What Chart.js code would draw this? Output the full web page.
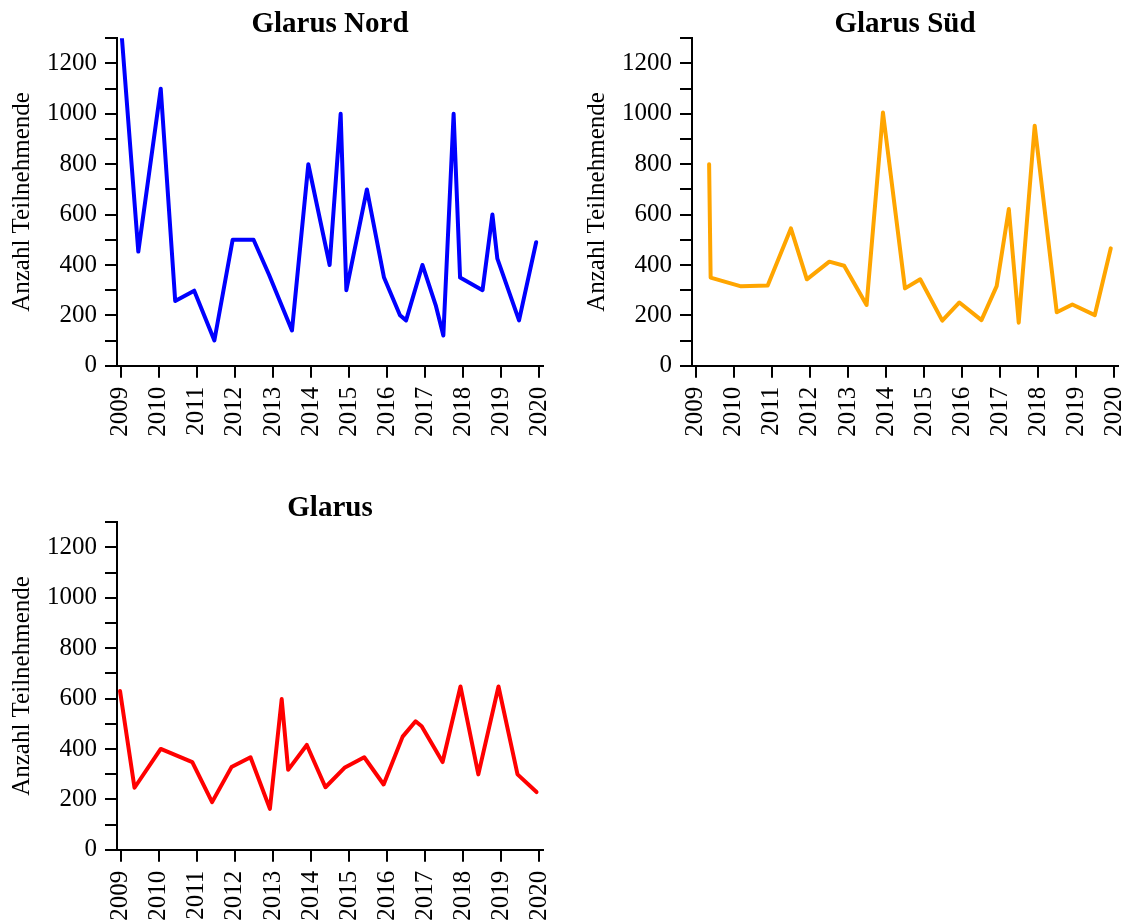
<!DOCTYPE html>
<html>
<head>
<meta charset="utf-8">
<script src="https://cdn.jsdelivr.net/npm/chart.js@4.4.1/dist/chart.umd.min.js"></script>
<style>
  html, body { margin: 0; padding: 0; background: #fff; overflow: hidden; }
  #wrap { position: relative; width: 1129px; height: 922px; overflow: hidden; background: #fff; }
  #wrap canvas { position: absolute; }
</style>
</head>
<body>
<div id="wrap">
  <canvas id="nord" width="565" height="460" style="left:0px;top:0px"></canvas>
  <canvas id="sued" width="565" height="460" style="left:575px;top:0px"></canvas>
  <canvas id="glarus" width="565" height="460" style="left:0px;top:484px"></canvas>
</div>
<script>
// Axis ticks
const yearTicks = [2009, 2010, 2011, 2012, 2013, 2014, 2015, 2016, 2017, 2018, 2019, 2020];
const countTicks = [0, 100, 200, 300, 400, 500, 600, 700, 800, 900, 1000, 1100, 1200, 1300];
const countLabels = [0, 200, 400, 600, 800, 1000, 1200];

// Glarus Nord (date as decimal year, participants)
const nordDates  = [2009.03, 2009.46, 2010.05, 2010.43, 2010.93, 2011.46, 2011.94, 2012.49, 2012.90, 2013.50,
                    2013.93, 2014.49, 2014.78, 2014.93, 2015.47, 2015.92, 2016.34, 2016.50, 2016.93, 2017.28,
                    2017.48, 2017.75, 2017.92, 2018.51, 2018.77, 2018.90, 2019.47, 2019.92];
const nordValues = [1300, 453, 1100, 257, 298, 100, 500, 500, 360, 140,
                    800, 400, 1000, 300, 700, 350, 200, 180, 400, 240,
                    120, 1000, 350, 300, 600, 425, 180, 490];

// Glarus Süd
const suedDates  = [2009.35, 2009.39, 2010.19, 2010.89, 2011.50, 2011.92, 2012.51, 2012.90, 2013.49, 2013.92,
                    2014.50, 2014.90, 2015.48, 2015.93, 2016.51, 2016.91, 2017.23, 2017.49, 2017.91, 2018.49,
                    2018.90, 2019.49, 2019.91];
const suedValues = [800, 350, 315, 318, 545, 343, 413, 397, 241, 1005,
                    307, 343, 179, 251, 181, 316, 622, 171, 953, 212,
                    243, 201, 466];

// Glarus
const glarusDates  = [2008.98, 2009.36, 2010.05, 2010.88, 2011.40, 2011.91, 2012.41, 2012.92, 2013.23, 2013.40,
                      2013.89, 2014.38, 2014.88, 2015.40, 2015.91, 2016.41, 2016.75, 2016.91, 2017.46, 2017.93,
                      2018.40, 2018.93, 2019.43, 2019.93];
const glarusValues = [630, 246, 400, 348, 189, 328, 367, 162, 598, 317,
                      416, 248, 325, 367, 259, 449, 510, 490, 348, 648,
                      299, 648, 299, 229];

Chart.defaults.font.family = "'Liberation Serif', 'Times New Roman', serif";
Chart.defaults.color = '#000';

const axisLine = { display: true, color: '#000', width: 2 };
const tickMarks = { drawOnChartArea: false, drawTicks: true, tickLength: 12, color: '#000', lineWidth: 2 };

function panel(id, titleText, dates, values, color) {
  const points = dates.map((d, i) => ({ x: d, y: values[i] }));
  return new Chart(document.getElementById(id), {
    type: 'line',
    data: {
      datasets: [{
        data: points,
        borderColor: color,
        borderWidth: 4,
        pointRadius: 0,
        tension: 0,
        borderJoinStyle: 'round',
        borderCapStyle: 'round',
        fill: false
      }]
    },
    options: {
      responsive: false,
      animation: false,
      events: [],
      layout: { padding: { left: 0, right: 22, top: 0, bottom: 0 } },
      plugins: {
        legend: { display: false },
        tooltip: { enabled: false },
        title: {
          display: true,
          text: titleText,
          fullSize: false,
          color: '#000',
          font: { size: 29, weight: 'bold', lineHeight: 1 },
          padding: { top: 9.8, bottom: -0.5 }
        }
      },
      scales: {
        x: {
          type: 'linear',
          min: 2008.9,
          max: 2020.1,
          afterFit: s => { s.height = 94.3; s.paddingLeft = 0; s.paddingRight = 0; },
          afterBuildTicks: s => { s.ticks = yearTicks.map(v => ({ value: v })); },
          ticks: {
            autoSkip: false,
            minRotation: 90,
            maxRotation: 90,
            padding: 9,
            color: '#000',
            font: { size: 25 },
            callback: v => String(v)
          },
          grid: tickMarks,
          border: axisLine
        },
        y: {
          type: 'linear',
          min: 0,
          max: 1300,
          afterFit: s => { s.width = 117; s.paddingTop = 0; s.paddingBottom = 0; },
          afterBuildTicks: s => { s.ticks = countTicks.map(v => ({ value: v })); },
          ticks: {
            autoSkip: false,
            padding: 8,
            color: '#000',
            font: { size: 25 },
            callback: v => countLabels.includes(v) ? String(v) : ''
          },
          grid: tickMarks,
          border: axisLine,
          title: {
            display: true,
            text: 'Anzahl Teilnehmende',
            color: '#000',
            font: { size: 25 },
            padding: { top: 7, bottom: 0 }
          }
        }
      }
    }
  });
}

panel('nord', 'Glarus Nord', nordDates, nordValues, '#0000ff');
panel('sued', 'Glarus Süd', suedDates, suedValues, '#ffa500');
panel('glarus', 'Glarus', glarusDates, glarusValues, '#ff0000');
</script>
</body>
</html>
